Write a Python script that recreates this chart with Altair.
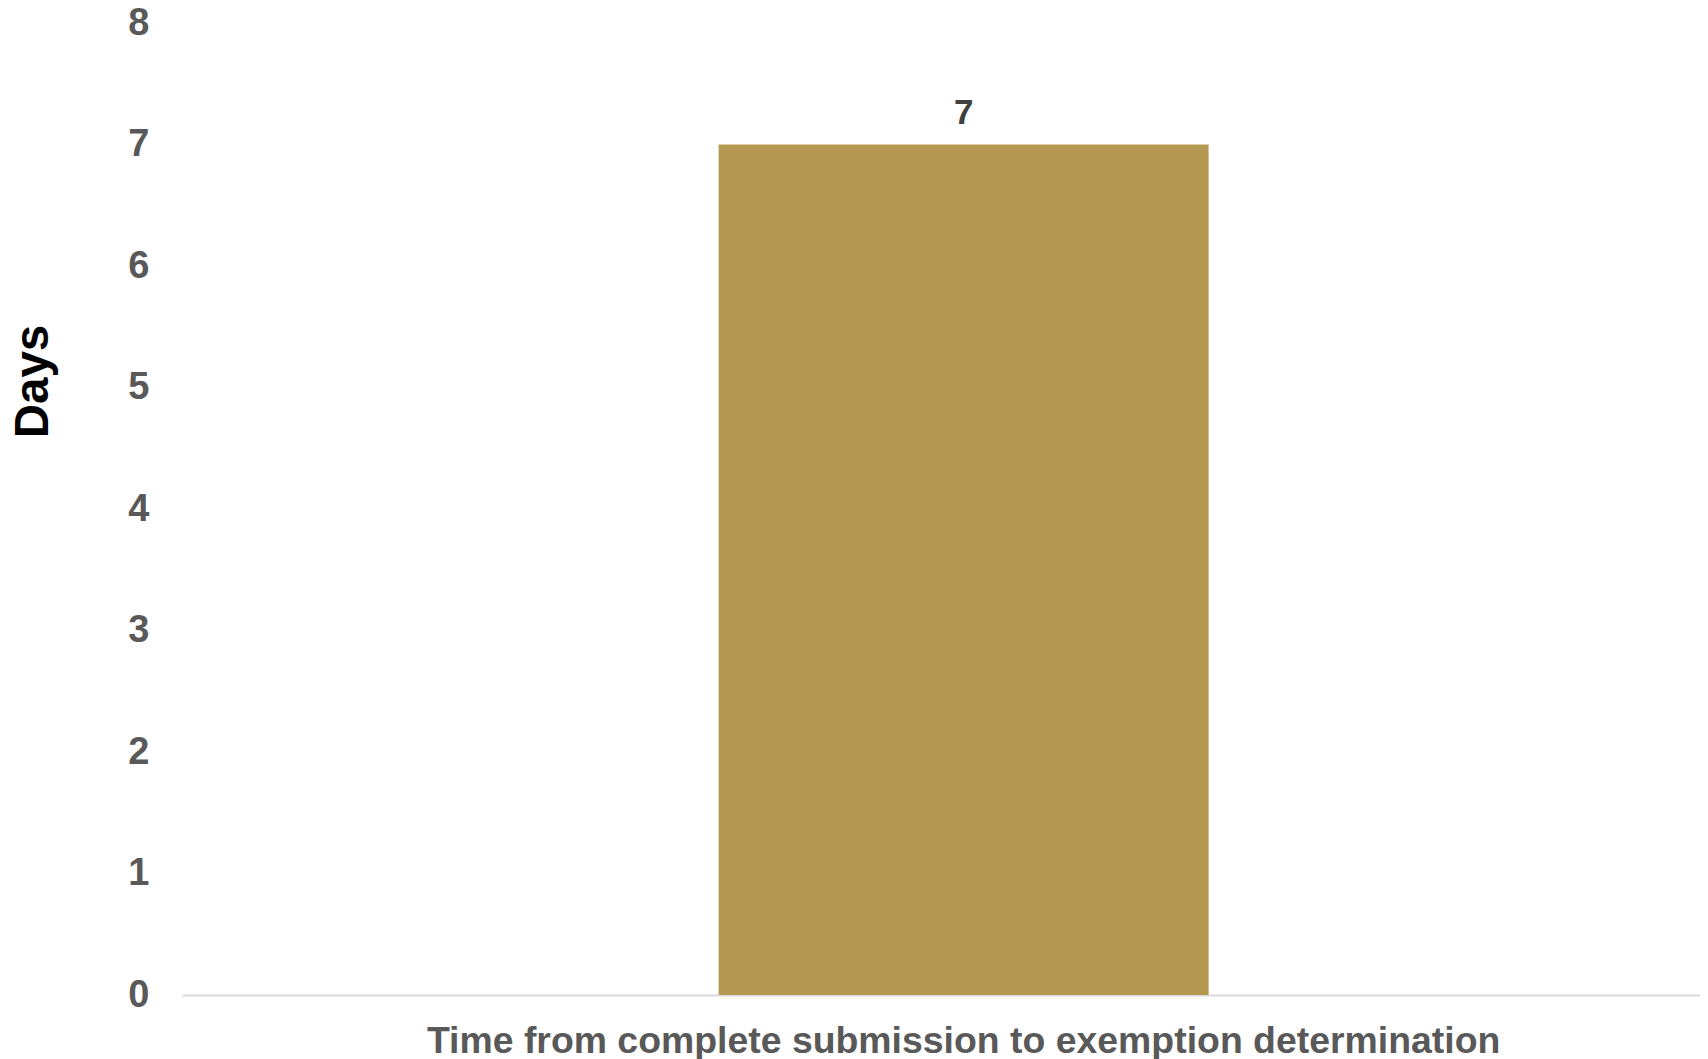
import altair as alt
import pandas as pd

categories = ["Time from complete submission to exemption determination"]
days = [7]

df = pd.DataFrame({"category": categories, "days": days})

base = alt.Chart(df).encode(
    x=alt.X(
        "category:N",
        title=None,
        scale=alt.Scale(paddingInner=0.0467, paddingOuter=1, align=0.522),
        axis=alt.Axis(
            labelAngle=0,
            labelFont="Liberation Sans",
            labelFontWeight="bold",
            labelFontSize=37.4,
            labelColor="#595959",
            labelPadding=27,
            labelLimit=2000,
            ticks=False,
            domainColor="#d9d9d9",
            domainWidth=2,
        ),
    ),
    y=alt.Y(
        "days:Q",
        title="Days",
        scale=alt.Scale(domain=[0, 8], nice=False),
        axis=alt.Axis(
            values=[0, 1, 2, 3, 4, 5, 6, 7, 8],
            labelFont="Liberation Sans",
            labelFontWeight="bold",
            labelFontSize=38,
            labelColor="#595959",
            labelPadding=33,
            ticks=False,
            domain=False,
            grid=False,
            titleFont="Liberation Sans",
            titleFontWeight="bold",
            titleFontSize=47.5,
            titleColor="#000000",
            titleAngle=-90,
            titleBaseline="middle",
            titleAlign="center",
            titleX=-149,
            titleY=358,
        ),
    ),
)

bars = base.mark_bar(color="#b59852")
labels = base.mark_text(
    font="Liberation Sans",
    fontWeight="bold",
    fontSize=35,
    color="#404040",
    baseline="middle",
    dy=-32,
).encode(text="days:Q")

chart = (
    (bars + labels)
    .properties(
        width=1518,
        height=972,
        background="white",
        autosize=alt.AutoSizeParams(type="none"),
        padding={"left": 174, "top": 15, "right": 0, "bottom": 64},
    )
    .configure_view(strokeWidth=0, stroke="transparent")
)

chart.save("out.html", embed_options={"renderer": "svg", "actions": False})
